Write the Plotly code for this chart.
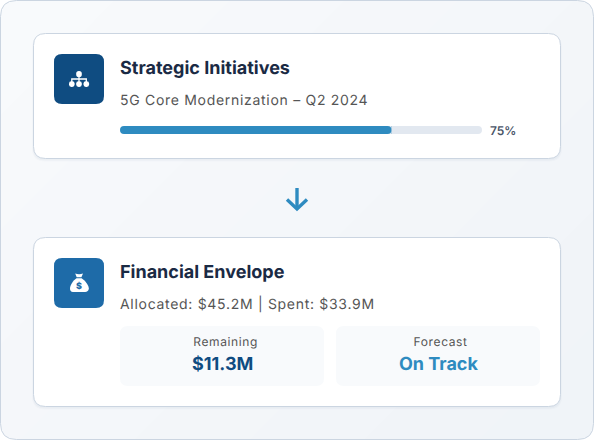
import plotly.graph_objects as go

# ---- data / content
initiative_title = "Strategic Initiatives"
initiative_subtitle = "5G Core Modernization – Q2 2024"
progress_pct = 75
progress_full = 100
progress_label = "75%"
finance_title = "Financial Envelope"
finance_subtitle = "Allocated: $45.2M | Spent: $33.9M"
tile_labels = ["Remaining", "Forecast"]
tile_values = ["$11.3M", "On Track"]

# ---- styles
FONT = "Inter"
NAVY = "#0f4c81"
MID = "#1e6ba8"
BLUE = "#2e8bc0"
TRACK = "#e2e8f0"
BORDER = "#cbd5e1"
DARK = "#1a2a44"
GREY = "#555555"
TILE = "#f8fafc"
BG_BANDS = ["#f8fafc", "#f7f9fb", "#f6f8fb", "#f5f7fa", "#f4f7fa", "#f3f6f9", "#f2f5f9", "#f1f4f8", "#f0f4f8"]


def rrect(x0, y0, x1, y1, r):
    return (f"M{x0+r},{y0} L{x1-r},{y0} Q{x1},{y0} {x1},{y0+r} L{x1},{y1-r} Q{x1},{y1} {x1-r},{y1} "
            f"L{x0+r},{y1} Q{x0},{y1} {x0},{y1-r} L{x0},{y0+r} Q{x0},{y0} {x0+r},{y0} Z")


def rrect_ccw(x0, y0, x1, y1, r):
    return (f"M{x0+r},{y0} Q{x0},{y0} {x0},{y0+r} L{x0},{y1-r} Q{x0},{y1} {x0+r},{y1} L{x1-r},{y1} "
            f"Q{x1},{y1} {x1},{y1-r} L{x1},{y0+r} Q{x1},{y0} {x1-r},{y0} Z")


shapes = []


def add(path, fill="rgba(0,0,0,0)", line=None, width=0, layer="below"):
    shapes.append(dict(type="path", path=path, xref="x", yref="y", fillcolor=fill, layer=layer,
                       line=dict(color=line or "rgba(0,0,0,0)", width=width)))


# diagonal background gradient, drawn as flat bands
total = 594 + 440
for i, c in enumerate(BG_BANDS):
    s = total * i / len(BG_BANDS)
    add(f"M{s},0 L1100,0 L1100,440 L{s-440},440 Z", fill=c)

# white page corners outside the rounded panel
add("M-2,-2 L596,-2 L596,442 L-2,442 Z " + rrect_ccw(0.5, 0.5, 593.5, 439.5, 16), fill="#ffffff")
add(rrect(0.5, 0.5, 593.5, 439.5, 16), line=BORDER, width=1)

# cards with soft shadow
for y0, y1 in [(33.5, 158.5), (237.5, 406.5)]:
    add(rrect(32, y0 + 1, 562, y1 + 3, 13), fill="rgba(15,40,80,0.018)")
    add(rrect(33, y0 + 1, 561, y1 + 2, 12), fill="rgba(15,40,80,0.025)")
    add(rrect(33.5, y0, 560.5, y1, 12), fill="#ffffff", line=BORDER, width=1)

# icon boxes
add(rrect(54, 54, 104, 104, 8), fill=NAVY)
add(rrect(54, 258, 104, 308, 8), fill=MID)

# metric tiles
add(rrect(120, 326, 324, 386, 8), fill=TILE)
add(rrect(336, 326, 540, 386, 8), fill=TILE)

# sitemap icon
add(rrect(76.2, 71, 81.8, 77, 2.6), fill="#ffffff")
for x0 in (69, 76.2, 83.5):
    add(rrect(x0, 81.2, x0 + 5.6, 87, 2.4), fill="#ffffff")
add("M71.8,82 L71.8,79 L86.3,79 L86.3,82 M79,76 L79,82", line="#ffffff", width=1.3)

# money bag icon
add("M75.2,273.6 Q79,275 83,273.6 L81.4,277.3 L76.7,277.3 Z", fill="#ffffff")
add("M76.5,278.2 L81.6,278.2 C85,280.5 88.8,285 88.8,288.6 C88.8,291 87,292 85.2,292 "
    "L72.9,292 C71,292 70,291 70,288.6 C70,285 73.2,280.5 76.5,278.2 Z", fill="#ffffff")

# arrow
add("M297,188 L297,208.6", line=BLUE, width=3.4)
add("M287,199.6 L297,209 L307,199.6", line=BLUE, width=3.4)

# rounded ends of the progress bar: corner masks above the bar traces
bar_left, bar_right, bar_top, bar_bottom, bar_r = 120, 482, 126, 134, 4
bar_mid = (bar_top + bar_bottom) / 2
tip = bar_left + (bar_right - bar_left) * progress_pct / progress_full


def corner_masks(x, side, colour):
    inner = x - side * bar_r
    add(f"M{x},{bar_top} L{inner},{bar_top} Q{x},{bar_top} {x},{bar_mid} Z", fill=colour, layer="above")
    add(f"M{x},{bar_bottom} L{inner},{bar_bottom} Q{x},{bar_bottom} {x},{bar_mid} Z", fill=colour, layer="above")


corner_masks(bar_left, -1, "#ffffff")
corner_masks(bar_right, 1, "#ffffff")
corner_masks(tip, 1, TRACK)

fig = go.Figure()
# coordinate carrier for the page
fig.add_trace(go.Scatter(x=[0], y=[0], mode="markers", marker=dict(opacity=0), hoverinfo="skip", showlegend=False))
# progress bar on its own scale
fig.add_trace(go.Bar(x=[progress_full], y=[0], width=1, orientation="h",
                     marker=dict(color=TRACK, line=dict(width=0)),
                     xaxis="x2", yaxis="y2", hoverinfo="skip", showlegend=False))
fig.add_trace(go.Bar(x=[progress_pct], y=[0], width=1, orientation="h",
                     marker=dict(color=BLUE, line=dict(width=0)),
                     xaxis="x2", yaxis="y2", hoverinfo="skip", showlegend=False))


def txt(x, y, s, size, color, weight=400, anchor="left"):
    return dict(x=x, y=y, xref="x", yref="y", text=s, showarrow=False, xanchor=anchor, yanchor="middle",
                borderpad=0, borderwidth=0, font=dict(family=FONT, size=size, color=color, weight=weight))


annotations = [
    txt(119.5, 67.5, initiative_title, 18, DARK, 700),
    txt(119.5, 99.5, initiative_subtitle, 14, GREY),
    txt(489.5, 130, progress_label, 12, "#4a5568", 600),
    txt(119.5, 271.5, finance_title, 18, DARK, 700),
    txt(119.5, 303.5, finance_subtitle, 14, GREY),
    txt(225, 341.5, tile_labels[0], 12, GREY, anchor="center"),
    txt(222, 363.5, tile_values[0], 18, NAVY, 700, anchor="center"),
    txt(440.5, 341.5, tile_labels[1], 12, GREY, anchor="center"),
    txt(438, 363.5, tile_values[1], 18, BLUE, 700, anchor="center"),
    txt(79, 285.4, "$", 9, MID, 800, anchor="center"),
]

fig.update_layout(
    width=594, height=440, margin=dict(l=0, r=0, t=0, b=0, pad=0),
    paper_bgcolor="#ffffff", plot_bgcolor="rgba(0,0,0,0)",
    barmode="overlay", showlegend=False,
    shapes=shapes, annotations=annotations,
    xaxis=dict(range=[0, 594], visible=False, domain=[0, 1], fixedrange=True),
    yaxis=dict(range=[440, 0], visible=False, domain=[0, 1], fixedrange=True),
    xaxis2=dict(range=[0, progress_full], visible=False, domain=[120 / 594, 482 / 594], anchor="y2", fixedrange=True),
    yaxis2=dict(range=[-0.5, 0.5], visible=False, domain=[306 / 440, 314 / 440], anchor="x2", fixedrange=True),
)

post = """
document.body.style.margin='0';
document.body.style.overflow='hidden';
var sp={'%s':0.7,'%s':0.7,'%s':0.6,'%s':0.6};
document.querySelectorAll('.annotation-text').forEach(function(t){
  t.style.textRendering='geometricPrecision';
  var v=sp[t.getAttribute('data-unformatted')||t.textContent];
  var l0=t.getBBox().x;
  if(v!==undefined){t.style.letterSpacing=v+'px';}
  var b=t.getBBox();
  if(v===0.7){t.setAttribute('x', parseFloat(t.getAttribute('x'))+(l0-b.x));}
});
""" % (initiative_subtitle, finance_subtitle, tile_labels[0], tile_labels[1])

fig.write_html("out.html", config={"displayModeBar": False, "staticPlot": True}, post_script=post)
